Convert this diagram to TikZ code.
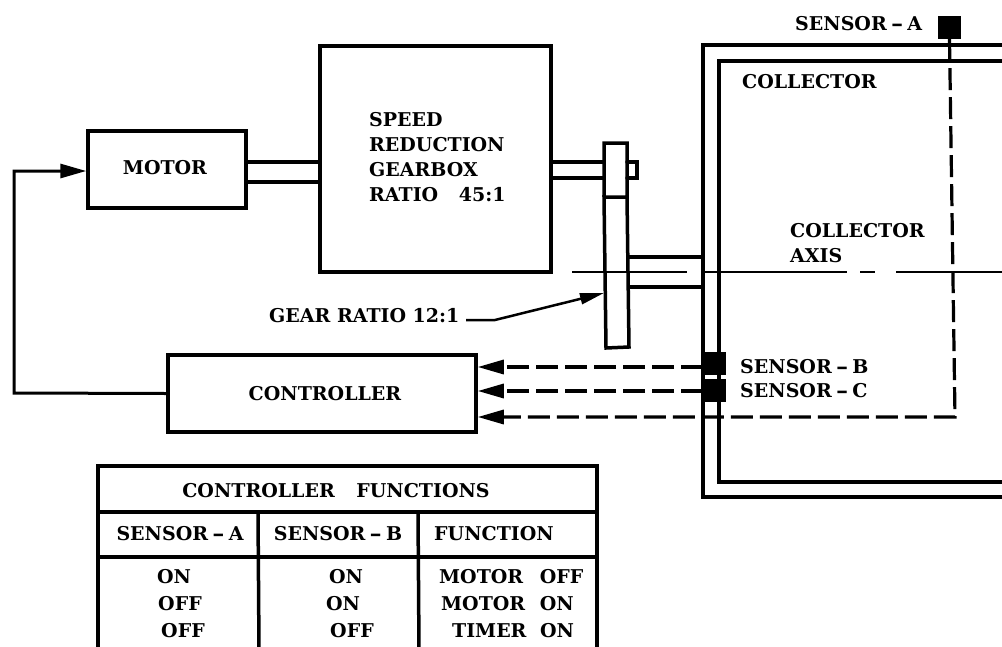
\documentclass[tikz,border=0pt]{standalone}
\usepackage{fontspec}
\setmainfont{DejaVu Serif}[BoldFont={DejaVu Serif Bold}]
\usetikzlibrary{arrows.meta,calc}
\newcommand{\longhy}{\kern4pt\scalebox{1.6}[1]{-}\kern4pt}
\tikzset{
 lbl/.style={inner sep=0pt,font=\fontsize{19}{25}\selectfont\bfseries,text=black},
 blk/.style={draw=black,line width=3.5pt,inner sep=0pt,fill=white,lbl},
 ln/.style={line width=3.5pt,line cap=round},
 thin ln/.style={line width=2pt},
 sens/.style={fill=black,inner sep=0pt},
 dsh/.style={line width=3.2pt,dash pattern=on 22pt off 7pt},
 tip/.style={-{Triangle[length=26pt,width=14pt]}}
}
\begin{document}
\begin{tikzpicture}[x=1pt,y=-1pt]
\useasboundingbox (0,0) rectangle (1002,646);
% boxes
\node[blk,minimum width=158pt,minimum height=77pt] (motor) at (167,169.5) {};
\node[lbl] (motort) at (165,168) {MOTOR};
\node[blk,minimum width=231pt,minimum height=226pt] (gearbox) at (435.5,159) {};
\node[lbl,align=left,anchor=west] (geart) at (369,157.5) {SPEED\\REDUCTION\\GEARBOX\\RATIO \kern14pt 45:1};
\node[blk,minimum width=308pt,minimum height=77pt] (ctrl) at (322,393.5) {};
\node[lbl] (ctrlt) at (325,394) {CONTROLLER};
% collector
\coordinate (oa) at (1010,45); \coordinate (ob) at (703,45); \coordinate (oc) at (703,497); \coordinate (od) at (1010,497);
\coordinate (ia) at (1010,61); \coordinate (ib) at (719,61); \coordinate (ic) at (719,482); \coordinate (id) at (1010,482);
\draw[ln,line join=miter,line cap=butt] (oa)--(ob)--(oc)--(od);
\draw[ln,line join=miter,line cap=butt] (ia)--(ib)--(ic)--(id);
% gear
\coordinate (g1) at (604,143); \coordinate (g2) at (627,143); \coordinate (g3) at (627,197); \coordinate (g4) at (604,197);
\coordinate (g5) at (606,348); \coordinate (g6) at (629,347);
\draw[ln] (g4)--(g1)--(g2)--(g3)--(g4)--(g5)--(g6)--(g3);
% shafts
\coordinate (m1) at (246,162); \coordinate (m2) at (320,162);
\coordinate (m3) at (246,182); \coordinate (m4) at (320,182);
\draw[ln] (m1)--(m2) (m3)--(m4);
\coordinate (s1) at (551,162); \coordinate (s2) at (604,162);
\coordinate (s3) at (551,178); \coordinate (s4) at (604,178);
\draw[ln] (s1)--(s2) (s3)--(s4);
\coordinate (st1) at (627,162); \coordinate (st2) at (637,162);
\coordinate (st3) at (637,178); \coordinate (st4) at (627,178);
\draw[ln] (st1)--(st2)--(st3)--(st4);
\coordinate (c1) at (629,257); \coordinate (c2) at (703,257);
\coordinate (c3) at (629,287); \coordinate (c4) at (703,287);
\draw[ln] (c1)--(c2) (c3)--(c4);
% axis
\coordinate (ax0) at (572,272); \coordinate (ax1) at (687,272);
\coordinate (ax2) at (703,272); \coordinate (ax3) at (847,272);
\coordinate (ax4) at (860,272); \coordinate (ax5) at (875,272);
\coordinate (ax6) at (896,272); \coordinate (ax7) at (1002,272);
\draw[thin ln] (ax0)--(ax1) (ax2)--(ax3) (ax4)--(ax5) (ax6)--(ax7);
% sensors
\node[sens,minimum width=23pt,minimum height=23pt] (sa) at (949.5,27.5) {};
\node[sens,minimum width=24pt,minimum height=23pt] (sb) at (713.5,363.5) {};
\node[sens,minimum width=24pt,minimum height=23pt] (sc) at (713.5,390.5) {};
% feedback
\coordinate (fb1) at (14,393); \coordinate (fb2) at (14,171); \coordinate (mi) at (motor.west |- fb2);
\draw[line width=3pt,tip] (ctrl.west) -- (fb1) -- (fb2) -- (mi);
% dashed signals
\coordinate (b0) at (703,367); \coordinate (c0) at (703,391);
\coordinate (acorner) at (955,417);
\draw[dsh,tip] (b0) -- (b0 -| ctrl.east);
\draw[dsh,tip] (c0) -- (c0 -| ctrl.east);
\draw[dsh,tip] (sa.south) -- (acorner) -- (acorner -| ctrl.east);
% gear ratio leader
\coordinate (gr0) at (466,320); \coordinate (gr1) at (495,320);
\coordinate (gr2) at (604,293);
\draw[line width=2.5pt,-{Triangle[length=24pt,width=11pt]}] (gr0) -- (gr1) -- (gr2);
% labels
\node[lbl,anchor=west] (la) at (795,24) {SENSOR\longhy A};
\node[lbl,anchor=west] (lc) at (742,82) {COLLECTOR};
\node[lbl,anchor=west,align=left] (lx) at (790,243.5) {COLLECTOR\\AXIS};
\node[lbl,anchor=west] (lg) at (269,316) {GEAR RATIO 12:1};
\node[lbl,anchor=west] (lb) at (740,367) {SENSOR\longhy B};
\node[lbl,anchor=west] (lcc) at (740,391) {SENSOR\longhy C};
% table
\coordinate (t1) at (98,466); \coordinate (t2) at (597,466);
\coordinate (t3) at (98,650); \coordinate (t4) at (597,650);
\draw[ln,line cap=butt,line join=miter] (t3)--(t1)--(t2)--(t4);
\coordinate (r1a) at (98,512); \coordinate (r1b) at (597,512);
\coordinate (r2a) at (98,557); \coordinate (r2b) at (597,557);
\draw[ln] (r1a)--(r1b) (r2a)--(r2b);
\coordinate (v1a) at (258,512); \coordinate (v1b) at (259,650);
\coordinate (v2a) at (418,512); \coordinate (v2b) at (419,650);
\draw[ln] (v1a)--(v1b) (v2a)--(v2b);
\node[lbl] (th) at (336,491) {CONTROLLER \kern15pt FUNCTIONS};
\node[lbl] (h1) at (180,534) {SENSOR\longhy A};
\node[lbl] (h2) at (338,534) {SENSOR\longhy B};
\node[lbl,anchor=west] (h3) at (434,534) {FUNCTION};
\node[lbl] (a1) at (174,577) {ON};
\node[lbl] (a2) at (180,604) {OFF};
\node[lbl] (a3) at (183,631) {OFF};
\node[lbl] (b1) at (346,577) {ON};
\node[lbl] (b2) at (343,604) {ON};
\node[lbl] (b3) at (352,631) {OFF};
\node[lbl,anchor=west] (f1) at (439,577) {MOTOR \kern10pt OFF};
\node[lbl,anchor=west] (f2) at (441,604) {MOTOR \kern8pt ON};
\node[lbl,anchor=west] (f3) at (452,631) {TIMER \kern7pt ON};
\end{tikzpicture}
\end{document}
